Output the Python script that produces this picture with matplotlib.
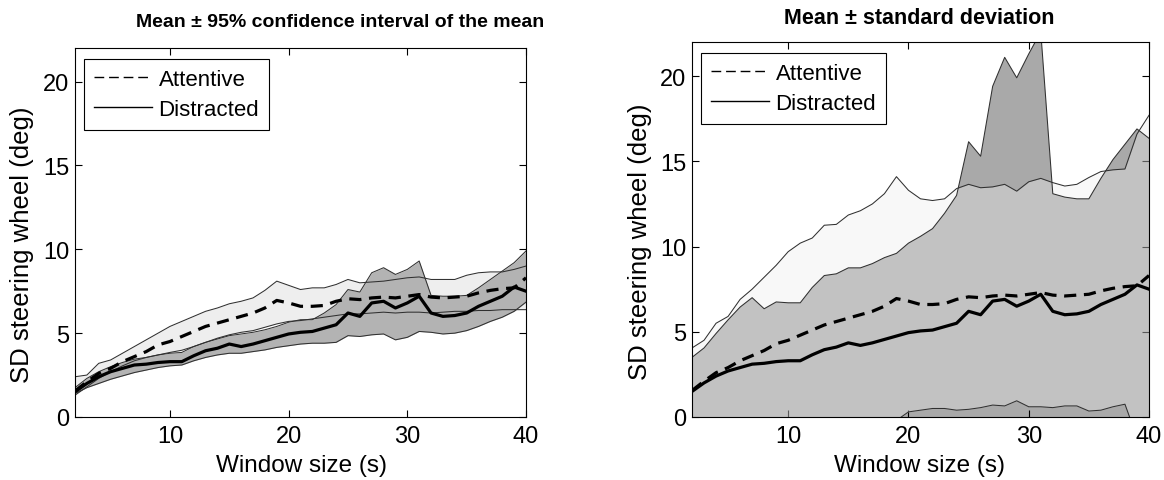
import numpy as np
import matplotlib.pyplot as plt
from matplotlib.lines import Line2D

plt.rcParams['font.family'] = ['Liberation Sans', 'DejaVu Sans']

# window sizes (s)
window = np.arange(2, 41)

# group means of SD steering wheel (deg)
att_mean = [1.55, 2.1, 2.6, 2.9, 3.3, 3.6, 3.9, 4.3, 4.5, 4.8, 5.1, 5.4, 5.6, 5.8, 6.0, 6.2, 6.5, 6.95, 6.8, 6.6,
            6.6, 6.65, 6.9, 7.05, 7.0, 7.1, 7.15, 7.1, 7.2, 7.3, 7.15, 7.1, 7.15, 7.2, 7.4, 7.55, 7.65, 7.7, 8.3]
dis_mean = [1.5, 2.0, 2.4, 2.7, 2.9, 3.1, 3.15, 3.25, 3.3, 3.3, 3.65, 3.95, 4.1, 4.35, 4.2, 4.35, 4.55, 4.75, 4.95, 5.05,
            5.1, 5.3, 5.5, 6.2, 6.0, 6.8, 6.9, 6.5, 6.8, 7.2, 6.2, 6.0, 6.05, 6.2, 6.6, 6.9, 7.2, 7.75, 7.5]

# 95% confidence interval bounds (left panel)
att_ci_lo = [1.3, 1.8, 2.3, 2.7, 3.05, 3.35, 3.55, 3.7, 3.85, 3.98, 4.2, 4.45, 4.7, 4.9, 5.05, 5.15, 5.35, 5.55, 5.7, 5.75,
             5.85, 5.95, 6.05, 6.15, 6.15, 6.2, 6.25, 6.2, 6.25, 6.25, 6.2, 6.25, 6.3, 6.3, 6.35, 6.35, 6.4, 6.4, 6.4]
att_ci_hi = [2.4, 2.5, 3.2, 3.4, 3.8, 4.2, 4.6, 5.0, 5.4, 5.7, 6.0, 6.3, 6.5, 6.75, 6.9, 7.1, 7.55, 8.1, 7.85, 7.6,
             7.7, 7.7, 7.9, 8.2, 8.0, 8.05, 8.1, 8.2, 8.3, 8.35, 8.2, 8.2, 8.2, 8.45, 8.6, 8.65, 8.65, 8.8, 9.0]
dis_ci_lo = [1.4, 1.75, 2.0, 2.25, 2.45, 2.65, 2.8, 2.95, 3.05, 3.1, 3.35, 3.55, 3.7, 3.8, 3.8, 3.9, 4.0, 4.15, 4.25, 4.35,
             4.4, 4.4, 4.45, 4.85, 4.8, 4.9, 4.95, 4.6, 4.75, 5.1, 5.05, 4.95, 5.0, 5.15, 5.4, 5.7, 5.95, 6.3, 6.85]
dis_ci_hi = [1.75, 2.3, 2.7, 3.0, 3.25, 3.45, 3.55, 3.7, 3.8, 3.85, 4.2, 4.45, 4.65, 4.85, 4.95, 5.05, 5.2, 5.4, 5.65, 5.8,
             5.8, 6.2, 6.7, 7.6, 7.45, 8.6, 8.9, 8.5, 8.8, 9.3, 7.25, 7.2, 7.2, 7.25, 7.7, 8.2, 8.7, 9.2, 9.9]

# standard deviations (right panel)
att_sd = [2.5, 2.4, 2.9, 3.0, 3.6, 3.9, 4.3, 4.6, 5.2, 5.4, 5.4, 5.85, 5.7, 6.05, 6.1, 6.3, 6.6, 7.15, 6.5, 6.2,
          6.1, 6.15, 6.5, 6.6, 6.45, 6.4, 6.5, 6.15, 6.6, 6.7, 6.6, 6.45, 6.5, 6.85, 7.0, 6.95, 6.9, 8.9, 9.4]
dis_sd = [2.0, 2.05, 2.5, 3.0, 3.55, 3.9, 3.2, 3.5, 3.4, 3.4, 3.95, 4.35, 4.3, 4.4, 4.55, 4.65, 4.8, 4.85, 5.25, 5.55,
          5.95, 6.65, 7.5, 9.95, 9.3, 12.6, 14.2, 13.4, 14.5, 15.4, 6.9, 6.9, 6.75, 6.6, 7.4, 8.2, 8.8, 9.15, 8.85]

att_mean = np.array(att_mean)
dis_mean = np.array(dis_mean)
att_sd = np.array(att_sd)
dis_sd = np.array(dis_sd)

edge = '#303030'
dash = (0, (3.8, 2.4))

fig = plt.figure(figsize=(11.64, 4.81), dpi=100)
ax1 = fig.add_axes([75 / 1164, 63 / 481, 451 / 1164, 369 / 481])
ax2 = fig.add_axes([692 / 1164, 63 / 481, 457 / 1164, 375 / 481])

# left: confidence intervals
ax1.fill_between(window, att_ci_lo, att_ci_hi, color='#eeeeee', lw=0, zorder=1)
ax1.fill_between(window, dis_ci_lo, dis_ci_hi, color='#b3b3b3', lw=0, zorder=2)
for b in (att_ci_lo, att_ci_hi, dis_ci_lo, dis_ci_hi):
    ax1.plot(window, b, color=edge, lw=0.75, zorder=3)
ax1.plot(window, att_mean, color='k', lw=2.3, ls=dash, zorder=4)
ax1.plot(window, dis_mean, color='k', lw=2.3, zorder=4)

# right: mean +- SD
ax2.fill_between(window, dis_mean - dis_sd, dis_mean + dis_sd, color='#a9a9a9', lw=0, zorder=1)
ax2.fill_between(window, att_mean - att_sd, att_mean + att_sd, color='0.93', alpha=0.375, lw=0, zorder=2)
for b in (att_mean - att_sd, att_mean + att_sd, dis_mean - dis_sd, dis_mean + dis_sd):
    ax2.plot(window, b, color=edge, lw=0.75, zorder=3)
ax2.plot(window, att_mean, color='k', lw=2.3, ls=dash, zorder=4)
ax2.plot(window, dis_mean, color='k', lw=2.3, zorder=4)

handles = [Line2D([], [], color='k', lw=1, ls=(0, (7, 3.5))),
           Line2D([], [], color='k', lw=1)]

for ax in (ax1, ax2):
    ax.set_xlim(2, 40)
    ax.set_ylim(0, 22)
    ax.set_xticks([10, 20, 30, 40])
    ax.set_yticks([0, 5, 10, 15, 20])
    ax.tick_params(direction='in', top=True, right=True, length=5, width=0.8,
                   labelsize=17, pad=4)
    ax.tick_params(axis='x', pad=6)
    for s in ax.spines.values():
        s.set_linewidth(0.8)
        s.set_zorder(5)
    leg = ax.legend(handles, ['Attentive', 'Distracted'], loc='upper left',
                    bbox_to_anchor=(0.02, 0.97), borderaxespad=0, fontsize=16,
                    handlelength=2.6, handletextpad=0.3, labelspacing=0.38,
                    borderpad=0.45, fancybox=False, framealpha=1, edgecolor='k')
    leg.get_frame().set_linewidth(0.8)
    leg.set_zorder(6)

fig.text(340 / 1164, 1 - 22.5 / 481, 'Mean \u00b1 95% confidence interval of the mean',
         ha='center', va='center', fontsize=14, fontweight='bold')
fig.text(919 / 1164, 1 - 18.5 / 481, 'Mean \u00b1 standard deviation',
         ha='center', va='center', fontsize=15.5, fontweight='bold')
fig.text(301 / 1164, 1 - 466 / 481, 'Window size (s)', ha='center', va='center', fontsize=17.5)
fig.text(920 / 1164, 1 - 466 / 481, 'Window size (s)', ha='center', va='center', fontsize=17.5)
fig.text(22 / 1164, 1 - 245 / 481, 'SD steering wheel (deg)', ha='center', va='center',
         rotation=90, fontsize=18.5)
fig.text(640 / 1164, 1 - 242 / 481, 'SD steering wheel (deg)', ha='center', va='center',
         rotation=90, fontsize=18.5)

plt.savefig('out.png', dpi=100)
